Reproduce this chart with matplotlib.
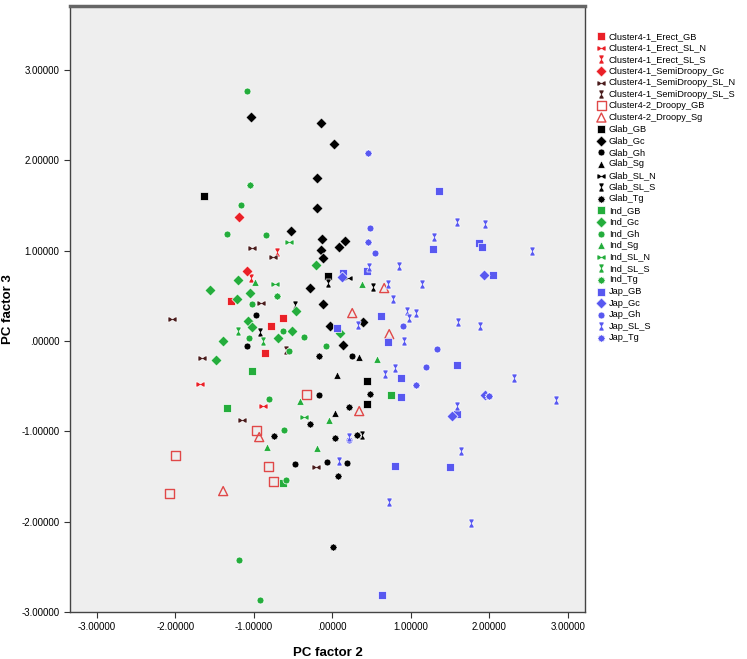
import numpy as np
import matplotlib
matplotlib.use('Agg')
import matplotlib.pyplot as plt
from matplotlib.path import Path
from matplotlib.ticker import FuncFormatter

plt.rcParams['font.family'] = ['Liberation Sans', 'DejaVu Sans']

# PC factor 2 (x) / PC factor 3 (y) scores per group
erect_gb_x = [-1.287, -0.624, -0.777, -0.854]
erect_gb_y = [0.443, 0.255, 0.166, -0.133]
erect_sln_x = [-1.682, -0.879]
erect_sln_y = [-0.476, -0.720]
erect_sls_x = [-0.701, -1.032]
erect_sls_y = [0.985, 0.697]
semi_gc_x = [-1.185, -1.083]
semi_gc_y = [1.373, 0.775]
semi_sln_x = [-1.019, -0.752, -0.904, -2.038, -1.656, -1.147, -0.204]
semi_sln_y = [1.030, 0.930, 0.421, 0.244, -0.188, -0.875, -1.395]
semi_sls_x = [-0.586]
semi_sls_y = [-0.100]
droopy_gb_x = [-0.331, -0.968, -2.000, -0.815, -0.752, -2.076]
droopy_gb_y = [-0.587, -0.985, -1.262, -1.384, -1.550, -1.683]
droopy_sg_x = [0.255, 0.662, 0.726, 0.344, -0.930, -1.389]
droopy_sg_y = [0.310, 0.587, 0.077, -0.775, -1.063, -1.661]

glab_gb_x = [-1.631, -0.051, 0.446, 0.446]
glab_gb_y = [1.605, 0.720, -0.443, -0.697]
glab_gc_x = [-1.032, -0.140, 0.025, -0.191, -0.191, -0.522, -0.127, -0.140,
             -0.115, 0.089, 0.166, -0.280, -0.115, -0.025, 0.395, 0.140]
glab_gc_y = [2.480, 2.413, 2.181, 1.805, 1.472, 1.218, 1.129, 1.007,
             0.919, 1.041, 1.107, 0.587, 0.410, 0.166, 0.210, -0.044]
glab_gh_x = [-0.968, -1.083, -0.166, 0.255, -0.471, -0.064, 0.191]
glab_gh_y = [0.288, -0.055, -0.598, -0.166, -1.362, -1.340, -1.351]
glab_sg_x = [0.344, 0.064, 0.038]
glab_sg_y = [-0.177, -0.376, -0.797]
glab_sln_x = [0.204]
glab_sln_y = [0.697]
glab_sls_x = [-0.051, -0.471, -0.917, 0.522, 0.382]
glab_sls_y = [0.642, 0.399, 0.100, 0.598, -1.041]
glab_tg_x = [-0.166, 0.484, 0.217, -0.280, -0.739, 0.038, 0.318, 0.076, 0.013]
glab_tg_y = [-0.166, -0.587, -0.731, -0.919, -1.052, -1.074, -1.041, -1.495, -2.281]

ind_gb_x = [-1.019, -1.338, 0.752, -0.624]
ind_gb_y = [-0.332, -0.742, -0.598, -1.572]
ind_gc_x = [-0.204, -1.197, -1.554, -1.045, -1.210, -0.459, -1.070, -1.019,
            -0.510, -1.389, -0.688, -1.478, 0.102]
ind_gc_y = [0.841, 0.675, 0.565, 0.531, 0.465, 0.332, 0.221, 0.155,
            0.111, 0.000, 0.033, -0.210, 0.089]
ind_gh_x = [-1.083, -1.159, -1.338, -0.841, -1.019, -0.624, -1.057, -0.357,
            -0.548, -0.076, -0.803, -0.611, -0.586, -1.185, -0.917]
ind_gh_y = [2.768, 1.506, 1.185, 1.174, 0.410, 0.111, 0.033, 0.044,
            -0.111, -0.055, -0.642, -0.985, -1.539, -2.425, -2.867]
ind_sg_x = [-0.981, 0.382, 0.573, -0.408, -0.038, -0.828, -0.191]
ind_sg_y = [0.653, 0.631, -0.199, -0.664, -0.875, -1.174, -1.185]
ind_sln_x = [-0.548, -0.726, -0.357]
ind_sln_y = [1.096, 0.631, -0.841]
ind_sls_x = [-1.197, -0.879]
ind_sls_y = [0.111, 0.000]
ind_tg_x = [-1.045, -0.701]
ind_tg_y = [1.727, 0.498]

jap_gb_x = [1.363, 1.287, 1.873, 1.911, 2.051, 0.140, 0.446, 0.624, 0.064,
            0.713, 1.592, 0.879, 0.879, 1.592, 0.803, 1.503, 0.637]
jap_gb_y = [1.661, 1.019, 1.085, 1.041, 0.731, 0.753, 0.775, 0.277, 0.144,
            -0.011, -0.266, -0.410, -0.620, -0.808, -1.384, -1.395, -2.812]
jap_gc_x = [1.936, 0.127, 1.529, 1.950]
jap_gc_y = [0.731, 0.709, -0.830, -0.598]
jap_gh_x = [0.484, 0.548, 0.904, 1.338, 1.197, 0.217]
jap_gh_y = [1.251, 0.974, 0.166, -0.089, -0.288, -1.096]
jap_sls_x = [1.592, 1.949, 1.299, 2.548, 0.471, 0.854, 0.713, 1.146, 0.777,
             0.955, 1.070, 0.981, 0.331, 0.917, 1.605, 1.885, 0.803, 0.675,
             2.318, 2.854, 1.592, 1.643, 0.217, 0.089, 0.726, 1.771]
jap_sls_y = [1.317, 1.295, 1.151, 0.996, 0.819, 0.830, 0.631, 0.631, 0.465,
             0.332, 0.310, 0.255, 0.177, 0.000, 0.210, 0.166, -0.299, -0.365,
             -0.410, -0.653, -0.720, -1.218, -1.063, -1.328, -1.782, -2.015]
jap_tg_x = [0.459, 0.459, 1.070, 2.000]
jap_tg_y = [2.081, 1.096, -0.487, -0.610]

x_ticks = [-3, -2, -1, 0, 1, 2, 3]
y_ticks = [-3, -2, -1, 0, 1, 2, 3]


def poly(pts):
    return Path(pts + [pts[0]], closed=True)


bowtie_pts = [(-1, 0.55), (-0.65, 0.55), (0, 0.15), (0.65, 0.55), (1, 0.55),
              (1, -0.55), (0.65, -0.55), (0, -0.15), (-0.65, -0.55), (-1, -0.55)]
bowtie = poly(bowtie_pts)
hourglass = poly([(y, x) for x, y in bowtie_pts])
ang = np.linspace(0, 2 * np.pi, 24, endpoint=False)
rad = np.where(np.arange(24) % 2 == 0, 1.0, 0.72)
burst = poly(list(zip(rad * np.cos(ang), rad * np.sin(ang))))

RED = '#ea2027'
OPEN_RED = '#e04848'
DARK = '#4a1c1c'
GREEN = '#24ad3c'
BLUE = '#5858f0'
BLACK = '#000000'

series = [
    ('Cluster4-1_Erect_GB', erect_gb_x, erect_gb_y, 's', RED, True, 30),
    ('Cluster4-1_Erect_SL_N', erect_sln_x, erect_sln_y, bowtie, RED, True, 42),
    ('Cluster4-1_Erect_SL_S', erect_sls_x, erect_sls_y, hourglass, RED, True, 42),
    ('Cluster4-1_SemiDroopy_Gc', semi_gc_x, semi_gc_y, 'D', RED, True, 32),
    ('Cluster4-1_SemiDroopy_SL_N', semi_sln_x, semi_sln_y, bowtie, DARK, True, 42),
    ('Cluster4-1_SemiDroopy_SL_S', semi_sls_x, semi_sls_y, hourglass, DARK, True, 42),
    ('Cluster4-2_Droopy_GB', droopy_gb_x, droopy_gb_y, 's', OPEN_RED, False, 42),
    ('Cluster4-2_Droopy_Sg', droopy_sg_x, droopy_sg_y, '^', OPEN_RED, False, 42),
    ('Glab_GB', glab_gb_x, glab_gb_y, 's', BLACK, True, 30),
    ('Glab_Gc', glab_gc_x, glab_gc_y, 'D', BLACK, True, 32),
    ('Glab_Gh', glab_gh_x, glab_gh_y, 'o', BLACK, True, 25),
    ('Glab_Sg', glab_sg_x, glab_sg_y, '^', BLACK, True, 30),
    ('Glab_SL_N', glab_sln_x, glab_sln_y, bowtie, BLACK, True, 42),
    ('Glab_SL_S', glab_sls_x, glab_sls_y, hourglass, BLACK, True, 42),
    ('Glab_Tg', glab_tg_x, glab_tg_y, burst, BLACK, True, 40),
    ('Ind_GB', ind_gb_x, ind_gb_y, 's', GREEN, True, 30),
    ('Ind_Gc', ind_gc_x, ind_gc_y, 'D', GREEN, True, 32),
    ('Ind_Gh', ind_gh_x, ind_gh_y, 'o', GREEN, True, 25),
    ('Ind_Sg', ind_sg_x, ind_sg_y, '^', GREEN, True, 30),
    ('Ind_SL_N', ind_sln_x, ind_sln_y, bowtie, GREEN, True, 42),
    ('Ind_SL_S', ind_sls_x, ind_sls_y, hourglass, GREEN, True, 42),
    ('Ind_Tg', ind_tg_x, ind_tg_y, burst, GREEN, True, 40),
    ('Jap_GB', jap_gb_x, jap_gb_y, 's', BLUE, True, 30),
    ('Jap_Gc', jap_gc_x, jap_gc_y, 'D', BLUE, True, 32),
    ('Jap_Gh', jap_gh_x, jap_gh_y, 'o', BLUE, True, 25),
    ('Jap_SL_S', jap_sls_x, jap_sls_y, hourglass, BLUE, True, 42),
    ('Jap_Tg', jap_tg_x, jap_tg_y, burst, BLUE, True, 40),
]

fig = plt.figure(figsize=(7.47, 6.59), dpi=100)
ax = fig.add_axes([70 / 747, 1 - 612 / 659, 515 / 747, 606 / 659])
ax.set_facecolor('#eeeeee')

for label, xs, ys, marker, color, filled, size in series:
    if filled:
        ax.scatter(xs, ys, marker=marker, s=size, c=color, edgecolors='white',
                   linewidths=0.5, label=label, zorder=3)
    else:
        ax.scatter(xs, ys, marker=marker, s=size, facecolors='none',
                   edgecolors=color, linewidths=1.0, label=label, zorder=3)

ax.set_xlim(-3.34, 3.22)
ax.set_ylim(-3.0, 3.71)
ax.set_xticks(x_ticks)
ax.set_yticks(y_ticks)


def spss_fmt(v, pos):
    s = '%.5f' % v
    if s.startswith('-0.'):
        s = '-' + s[2:]
    elif s.startswith('0.'):
        s = s[1:]
    if s == '-.00000':
        s = '.00000'
    return s


ax.xaxis.set_major_formatter(FuncFormatter(spss_fmt))
ax.yaxis.set_major_formatter(FuncFormatter(spss_fmt))
ax.tick_params(labelsize=7, length=4, width=0.8, color='#333333')
for side in ['left', 'bottom', 'right']:
    ax.spines[side].set_color('#444444')
    ax.spines[side].set_linewidth(1.0)
ax.spines['top'].set_color('#666666')
ax.spines['top'].set_linewidth(2.5)

ax.set_xlabel('PC factor 2', fontsize=9.5, fontweight='bold')
ax.set_ylabel('PC factor 3', fontsize=9.5, fontweight='bold')
ax.xaxis.set_label_coords(0.5, -0.058)
ax.yaxis.set_label_coords(-0.108, 0.5)

ax.legend(loc='upper left', bbox_to_anchor=(593 / 747, 1 - 28 / 659),
          bbox_transform=fig.transFigure, frameon=False, fontsize=6.7,
          handletextpad=0.3, labelspacing=0.28, borderaxespad=0,
          handlelength=1.0, scatterpoints=1)

fig.savefig('out.png', dpi=100)
